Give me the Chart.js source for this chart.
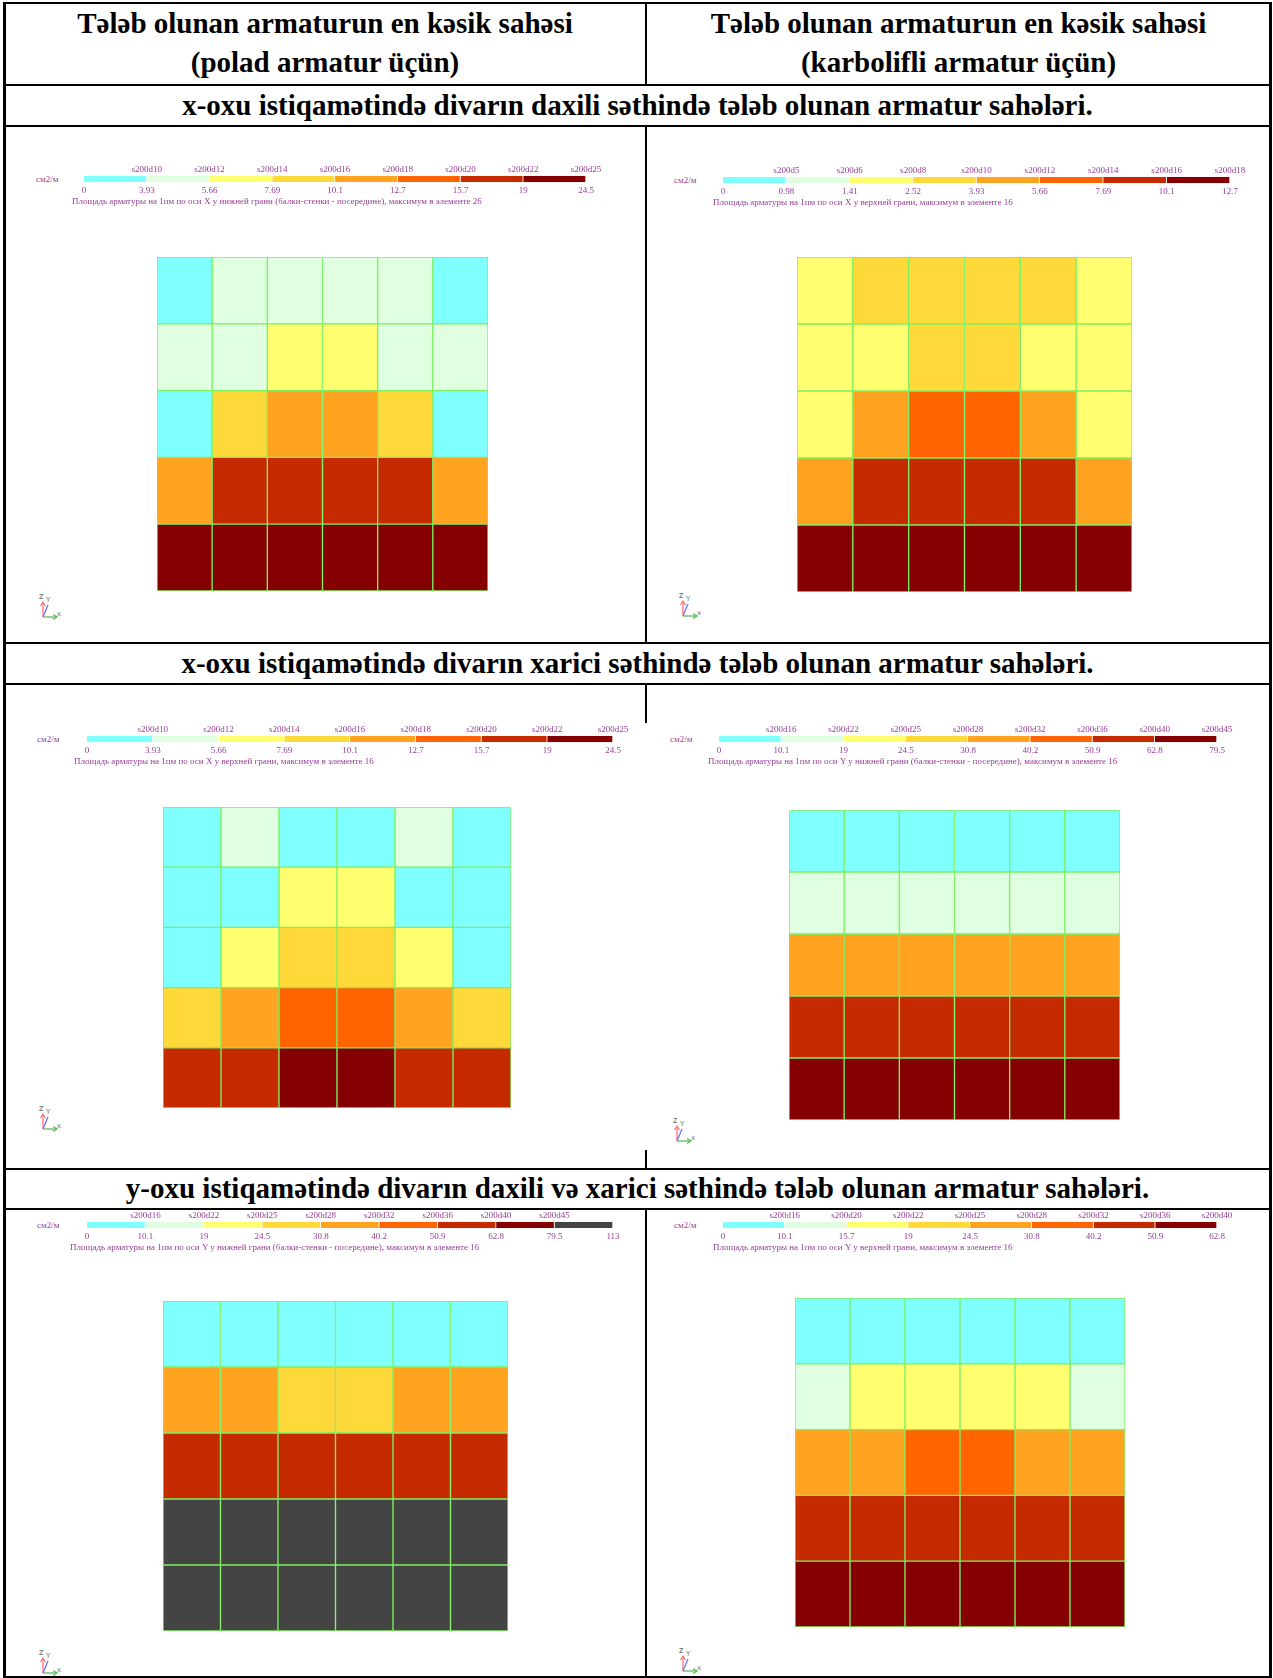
<!DOCTYPE html>
<html>
<head>
<meta charset="utf-8">
<script src="https://cdn.jsdelivr.net/npm/chart.js@4.4.1/dist/chart.umd.min.js"></script>
<style>
  body { margin: 0; background: #fff; }
  #page { position: relative; width: 1273px; height: 1678px; overflow: hidden;
          font-family: "Liberation Serif", "Times New Roman", serif; }
  .ln { position: absolute; background: #000; }
  .hd { position: absolute; font-weight: bold; font-size: 29px; line-height: 30px;
        text-align: center; white-space: nowrap; color: #000; }
  .box { position: absolute; }
  .lg { position: absolute; font-size: 9px; line-height: 10px; color: #973c97; white-space: nowrap; }
</style>
</head>
<body>
<div id="page"></div>
<script>
// colour bands used by all scales (cm2/m)
const bandColors = ['#80ffff', '#e0ffe0', '#ffff70', '#ffd83a', '#ffa320', '#ff6400', '#c52a00', '#850000', '#444444'];
const columns = ['1', '2', '3', '4', '5', '6'];

// x-axis, inner face, steel
const p1Limits = [0, 3.93, 5.66, 7.69, 10.1, 12.7, 15.7, 19, 24.5];
const p1Names = ['s200d10', 's200d12', 's200d14', 's200d16', 's200d18', 's200d20', 's200d22', 's200d25'];
const p1Values = [
  [2.5, 4.6, 5.1, 5.1, 4.6, 2.5],
  [4.3, 5.2, 6.8, 6.8, 5.2, 4.3],
  [3.2, 8.5, 11.2, 11.2, 8.5, 3.2],
  [11.8, 17.1, 18.2, 18.2, 17.1, 11.8],
  [22.4, 23.8, 24.5, 24.5, 23.8, 22.4]
];
const p1Caption = 'Площадь арматуры на 1пм по оси X у нижней грани (балки-стенки - посередине), максимум в элементе 26';

// x-axis, inner face, carbon fibre
const p2Limits = [0, 0.98, 1.41, 2.52, 3.93, 5.66, 7.69, 10.1, 12.7];
const p2Names = ['s200d5', 's200d6', 's200d8', 's200d10', 's200d12', 's200d14', 's200d16', 's200d18'];
const p2Values = [
  [2.2, 2.9, 3.3, 3.3, 2.9, 2.2],
  [1.9, 2.4, 3.1, 3.1, 2.4, 1.9],
  [2.3, 4.8, 6.4, 6.4, 4.8, 2.3],
  [5.1, 9.2, 9.8, 9.8, 9.2, 5.1],
  [11.6, 12.3, 12.7, 12.7, 12.3, 11.6]
];
const p2Caption = 'Площадь арматуры на 1пм по оси X у верхней грани, максимум в элементе 16';

// x-axis, outer face, steel
const p3Limits = [0, 3.93, 5.66, 7.69, 10.1, 12.7, 15.7, 19, 24.5];
const p3Names = ['s200d10', 's200d12', 's200d14', 's200d16', 's200d18', 's200d20', 's200d22', 's200d25'];
const p3Values = [
  [3.1, 4.2, 3.6, 3.6, 4.2, 3.1],
  [2.8, 3.5, 6.1, 6.1, 3.5, 2.8],
  [3.4, 7.2, 8.6, 8.6, 7.2, 3.4],
  [9.3, 12.1, 14.8, 14.8, 12.1, 9.3],
  [16.9, 18.4, 24.5, 24.5, 18.4, 16.9]
];
const p3Caption = 'Площадь арматуры на 1пм по оси X у верхней грани, максимум в элементе 16';

// x-axis, outer face, carbon fibre
const p4Limits = [0, 10.1, 19, 24.5, 30.8, 40.2, 50.9, 62.8, 79.5];
const p4Names = ['s200d16', 's200d22', 's200d25', 's200d28', 's200d32', 's200d36', 's200d40', 's200d45'];
const p4Values = [
  [7.8, 8.4, 8.6, 8.6, 8.4, 7.8],
  [14.2, 15.1, 15.6, 15.6, 15.1, 14.2],
  [33.5, 35.2, 36.1, 36.1, 35.2, 33.5],
  [55.4, 57.9, 58.8, 58.8, 57.9, 55.4],
  [70.3, 74.6, 79.5, 79.5, 74.6, 70.3]
];
const p4Caption = 'Площадь арматуры на 1пм по оси Y у нижней грани (балки-стенки - посередине), максимум в элементе 16';

// y-axis, steel
const p5Limits = [0, 10.1, 19, 24.5, 30.8, 40.2, 50.9, 62.8, 79.5, 113];
const p5Names = ['s200d16', 's200d22', 's200d25', 's200d28', 's200d32', 's200d36', 's200d40', 's200d45'];
const p5Values = [
  [6.2, 7.1, 7.5, 7.5, 7.1, 6.2],
  [32.4, 31.6, 28.9, 28.9, 31.6, 32.4],
  [58.2, 60.1, 61.4, 61.4, 60.1, 58.2],
  [88.5, 92.3, 94.1, 94.1, 92.3, 88.5],
  [104.6, 109.8, 113, 113, 109.8, 104.6]
];
const p5Caption = 'Площадь арматуры на 1пм по оси Y у нижней грани (балки-стенки - посередине), максимум в элементе 16';

// y-axis, carbon fibre
const p6Limits = [0, 10.1, 15.7, 19, 24.5, 30.8, 40.2, 50.9, 62.8];
const p6Names = ['s200d16', 's200d20', 's200d22', 's200d25', 's200d28', 's200d32', 's200d36', 's200d40'];
const p6Values = [
  [5.4, 6.3, 6.8, 6.8, 6.3, 5.4],
  [14.1, 16.4, 17.2, 17.2, 16.4, 14.1],
  [27.6, 29.3, 33.8, 33.8, 29.3, 27.6],
  [44.5, 46.8, 48.2, 48.2, 46.8, 44.5],
  [56.3, 59.7, 62.8, 62.8, 59.7, 56.3]
];
const p6Caption = 'Площадь арматуры на 1пм по оси Y у верхней грани, максимум в элементе 16';

const headLeft = ['Tələb olunan armaturun en kəsik sahəsi', '(polad armatur üçün)'];
const headRight = ['Tələb olunan armaturun en kəsik sahəsi', '(karbolifli armatur üçün)'];
const sectionTitles = [
  'x-oxu istiqamətində divarın daxili səthində tələb olunan armatur sahələri.',
  'x-oxu istiqamətində divarın xarici səthində tələb olunan armatur sahələri.',
  'y-oxu istiqamətində divarın daxili və xarici səthində tələb olunan armatur sahələri.'
];

const page = document.getElementById('page');
const purple = '#973c97';

function el(cls, x, y, w, h) {
  const d = document.createElement('div');
  d.className = cls;
  d.style.left = x + 'px';
  d.style.top = y + 'px';
  if (w != null) d.style.width = w + 'px';
  if (h != null) d.style.height = h + 'px';
  page.appendChild(d);
  return d;
}

// table rules
[2, 84, 125, 642, 683, 1168, 1208, 1676].forEach(y => el('ln', 3, y, 1269, 2));
el('ln', 3, 2, 3, 1676);
el('ln', 1269, 2, 3, 1676);
[[2, 84], [125, 642], [683, 723], [1150, 1168], [1208, 1678]].forEach(s => el('ln', 645, s[0], 2, s[1] - s[0]));

// header texts
headLeft.forEach((t, i) => { el('hd', 5, [8, 47][i], 640).textContent = t; });
headRight.forEach((t, i) => { el('hd', 647, [8, 47][i], 623).textContent = t; });
[90, 648, 1173].forEach((y, i) => { el('hd', 5, y, 1265).textContent = sectionTitles[i]; });

function bandOf(v, limits) {
  let k = 0;
  for (let i = 1; i < limits.length - 1; i++) if (v >= limits[i]) k = i;
  return k;
}

function heatmap(r, values, limits) {
  const box = el('box', r.x, r.y, r.w, r.h);
  const cv = document.createElement('canvas');
  box.appendChild(cv);
  const datasets = [];
  for (let i = values.length - 1; i >= 0; i--) {
    datasets.push({
      label: 'row ' + (i + 1),
      data: values[i].map(() => 1),
      cellValues: values[i],
      backgroundColor: values[i].map(v => bandColors[bandOf(v, limits)]),
      borderColor: '#7cf060',
      borderWidth: 1,
      borderSkipped: false,
      categoryPercentage: 1,
      barPercentage: 1
    });
  }
  new Chart(cv, {
    type: 'bar',
    data: { labels: columns, datasets: datasets },
    options: {
      responsive: true,
      maintainAspectRatio: false,
      animation: false,
      layout: { padding: 0 },
      plugins: {
        legend: { display: false },
        tooltip: { callbacks: { label: c => c.dataset.cellValues[c.dataIndex] + ' см2/м' } }
      },
      scales: {
        x: { display: false, stacked: true },
        y: { display: false, stacked: true, min: 0, max: values.length }
      }
    }
  });
}

function colorScale(r, limits, names, caption) {
  const n = limits.length - 1;
  const box = el('box', r.x - 20, r.y - 13, r.w + 40, 36);
  const cv = document.createElement('canvas');
  box.appendChild(cv);
  const datasets = [];
  for (let k = 0; k < n; k++) {
    datasets.push({
      data: [1],
      backgroundColor: bandColors[k],
      borderColor: 'rgba(255,255,255,0.7)',
      borderWidth: { right: 1 },
      borderSkipped: false,
      categoryPercentage: 1,
      barPercentage: 1
    });
  }
  const tickFont = { family: 'Liberation Serif', size: 9 };
  const chart = new Chart(cv, {
    type: 'bar',
    data: { labels: ['см2/м'], datasets: datasets },
    options: {
      indexAxis: 'y',
      responsive: true,
      maintainAspectRatio: false,
      animation: false,
      layout: { padding: { left: 20, right: 20 } },
      plugins: { legend: { display: false }, tooltip: { enabled: false } },
      scales: {
        y: { display: false, stacked: true },
        x: {
          type: 'linear', stacked: true, min: 0, max: n, position: 'bottom',
          grid: { display: false, drawTicks: false }, border: { display: false },
          ticks: { stepSize: 1, autoSkip: false, maxRotation: 0, padding: 3, color: purple, font: tickFont,
                   callback: v => limits[v] }
        },
        x2: {
          type: 'linear', min: 0, max: n, position: 'top',
          grid: { display: false, drawTicks: false }, border: { display: false },
          ticks: { stepSize: 1, autoSkip: false, maxRotation: 0, padding: 1, color: purple, font: tickFont,
                   callback: v => names[v - 1] || '' }
        }
      }
    }
  });
  const ca = chart.chartArea;
  box.style.left = (r.x - ca.left) + 'px';
  box.style.top = (r.y - ca.top) + 'px';
  el('lg', r.unitX, r.y - 2).textContent = 'см2/м';
  el('lg', r.capX, r.y + 20).textContent = caption;
}

function axisIcon(x, y) {
  const d = el('box', x, y, 26, 28);
  d.innerHTML =
    '<svg width="26" height="28" viewBox="0 0 26 28" xmlns="http://www.w3.org/2000/svg">' +
    '<text x="1" y="7" font-size="8" font-family="DejaVu Sans" fill="#666">z</text>' +
    '<text x="8" y="10" font-size="7" font-family="DejaVu Sans" fill="#777">Y</text>' +
    '<line x1="5" y1="25" x2="5" y2="11" stroke="#ff6a6a" stroke-width="1.2"/>' +
    '<path d="M2.5 14 L5 10 L7.5 14" fill="none" stroke="#ff6a6a" stroke-width="1.1"/>' +
    '<line x1="5" y1="25" x2="10" y2="13" stroke="#6a6aff" stroke-width="1.2"/>' +
    '<line x1="5" y1="25" x2="18" y2="25" stroke="#4cb84c" stroke-width="1.2"/>' +
    '<path d="M15 22.5 L19 25 L15 27.5" fill="none" stroke="#4cb84c" stroke-width="1.1"/>' +
    '<text x="19" y="24" font-size="7" font-family="DejaVu Sans" fill="#777">x</text>' +
    '</svg>';
}

const panels = [
  { values: p1Values, limits: p1Limits, names: p1Names, caption: p1Caption,
    grid: { x: 157, y: 257, w: 331, h: 334 }, scale: { x: 84, y: 176, w: 502, unitX: 36, capX: 72 }, icon: [38, 592] },
  { values: p2Values, limits: p2Limits, names: p2Names, caption: p2Caption,
    grid: { x: 797, y: 257, w: 335, h: 335 }, scale: { x: 723, y: 177, w: 507, unitX: 674, capX: 713 }, icon: [678, 591] },
  { values: p3Values, limits: p3Limits, names: p3Names, caption: p3Caption,
    grid: { x: 163, y: 807, w: 348, h: 301 }, scale: { x: 87, y: 736, w: 526, unitX: 37, capX: 74 }, icon: [38, 1104] },
  { values: p4Values, limits: p4Limits, names: p4Names, caption: p4Caption,
    grid: { x: 789, y: 810, w: 331, h: 310 }, scale: { x: 719, y: 736, w: 498, unitX: 670, capX: 708 }, icon: [672, 1116] },
  { values: p5Values, limits: p5Limits, names: p5Names, caption: p5Caption,
    grid: { x: 163, y: 1301, w: 345, h: 330 }, scale: { x: 87, y: 1222, w: 526, unitX: 37, capX: 70 }, icon: [38, 1648] },
  { values: p6Values, limits: p6Limits, names: p6Names, caption: p6Caption,
    grid: { x: 795, y: 1298, w: 330, h: 329 }, scale: { x: 723, y: 1222, w: 494, unitX: 674, capX: 713 }, icon: [678, 1646] }
];

panels.forEach(p => {
  heatmap(p.grid, p.values, p.limits);
  colorScale(p.scale, p.limits, p.names, p.caption);
  axisIcon(p.icon[0], p.icon[1]);
});
</script>
</body>
</html>
